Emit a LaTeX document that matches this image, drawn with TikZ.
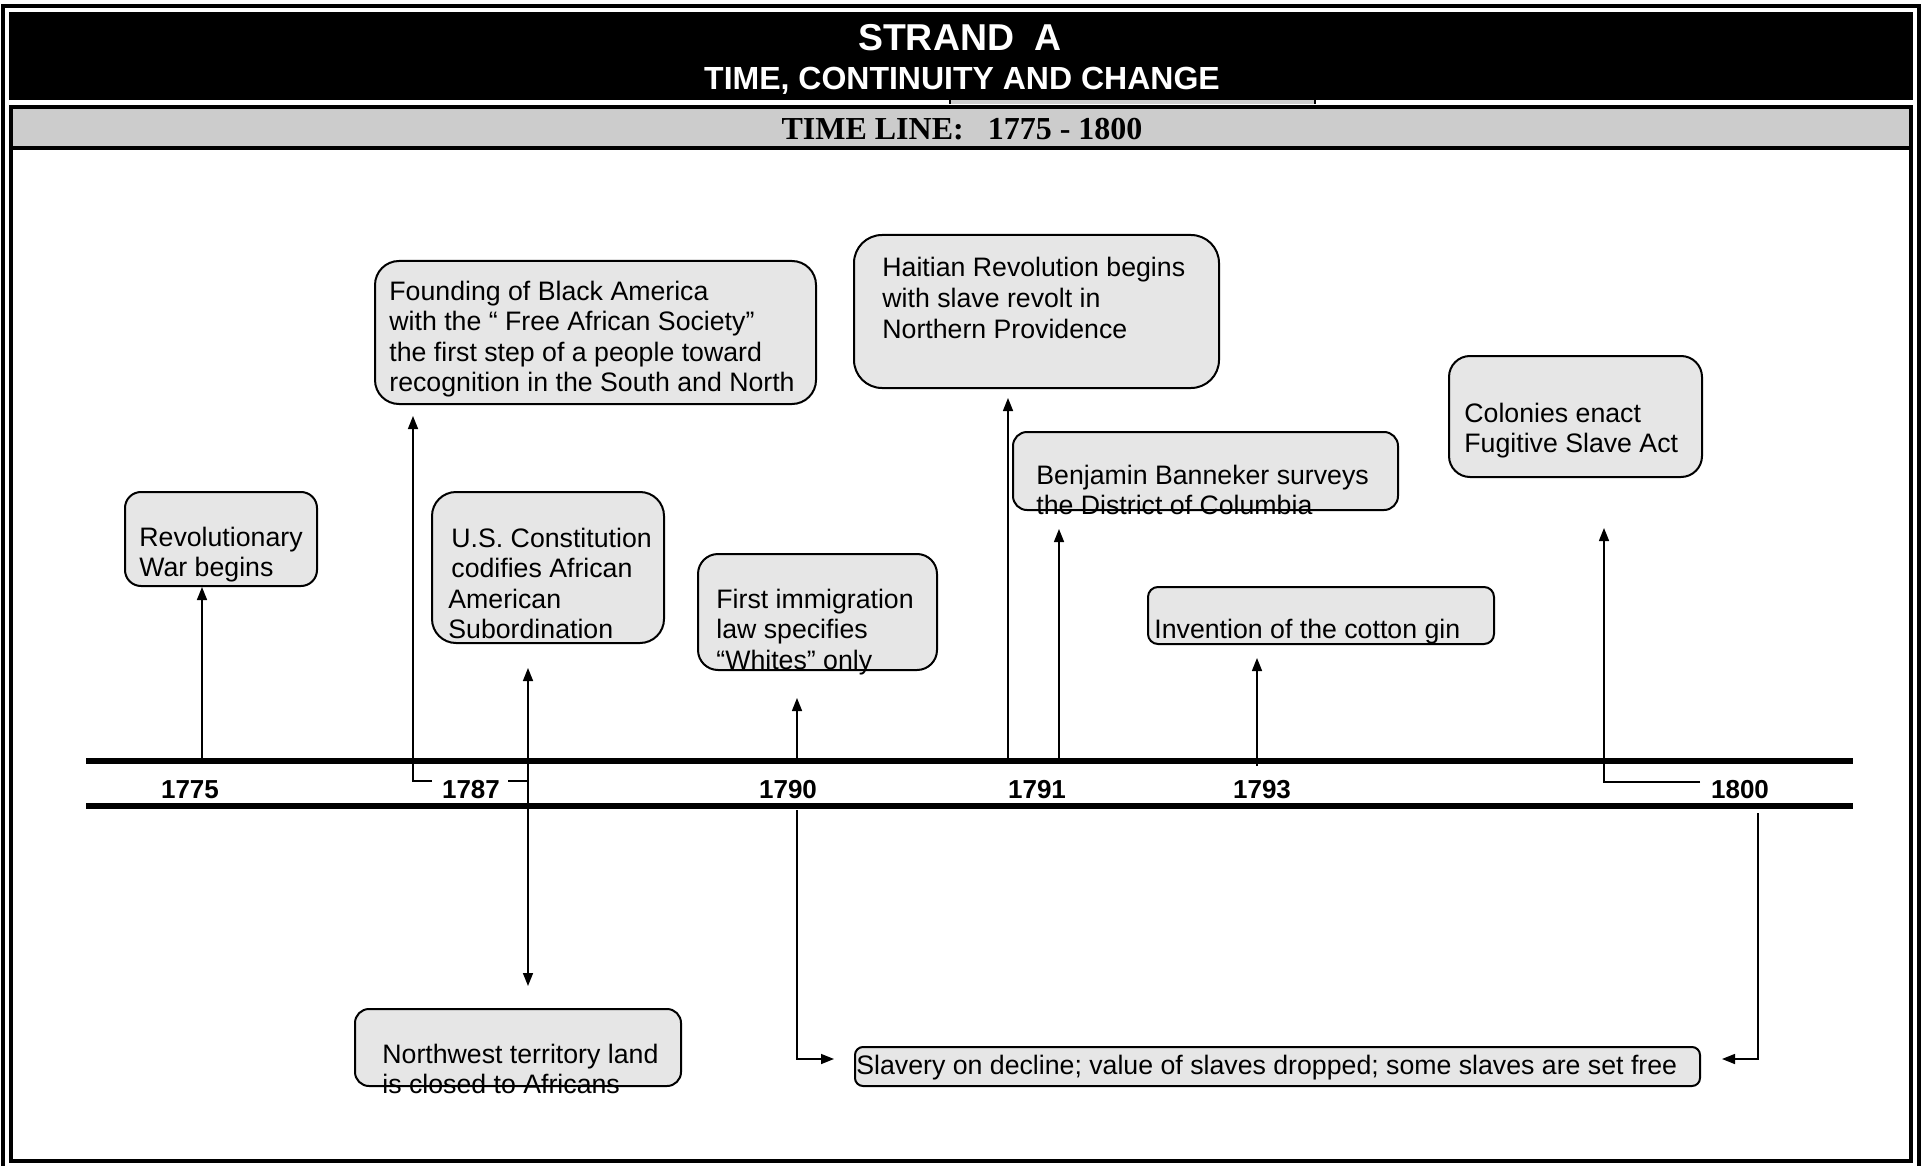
\documentclass[tikz,border=0pt]{standalone}
\usepackage{fontspec}
\setmainfont{Liberation Sans}
\newfontfamily\tnr{Liberation Serif}
\usetikzlibrary{arrows.meta}
\definecolor{boxgray}{HTML}{E6E6E6}
\definecolor{bandgray}{HTML}{CCCCCC}
\begin{document}
\begin{tikzpicture}[x=0.5pt,y=-0.5pt,
  evbox/.style={draw=black, line width=1pt, fill=boxgray, inner sep=0pt, shape=rectangle},
  evtext/.style={anchor=base west, inner sep=0pt, font=\fontsize{13.35}{15.3}\selectfont},
  yr/.style={anchor=base, inner sep=0pt, font=\fontsize{13}{15}\selectfont\bfseries},
  conn/.style={line width=0.75pt},
  tip/.tip={Triangle[length=6.5pt,width=5pt]},
  arr/.style={conn, -tip},
  tline/.style={line width=3pt},
  frame/.style={line width=2pt},
]
\useasboundingbox (0,0) rectangle (1927,1166);
\fill[white] (0,0) rectangle (1927,1166);
% outer frame
\draw[frame] (3,6) rectangle (1918.5,1175);
% title block
\fill[black] (9,12) rectangle (1913,100);
\fill[bandgray] (950,100) rectangle (1315,104);
\draw[line width=0.6pt] (950,100) -- (950,104) (1315,100) -- (1315,104);
% inner frame with gray band
\fill[bandgray] (11,107) rectangle (1911,148);
\draw[frame] (11,107) rectangle (1911,1161);
\draw[frame] (11,148) -- (1911,148);
\node[anchor=base, inner sep=0pt, text=white, font=\fontsize{18.7}{22}\selectfont\bfseries] (title1) at (960,51) {STRAND\ \ A};
\node[anchor=base, inner sep=0pt, text=white, font=\fontsize{16}{19}\selectfont\bfseries] (title2) at (962,90) {TIME, CONTINUITY AND CHANGE};
\node[anchor=base, inner sep=0pt, font=\fontsize{16}{19}\selectfont\tnr\bfseries] (band) at (962,140) {TIME LINE:\ \ \ 1775 - 1800};

% timeline
\coordinate (tlAl) at (86,761);
\coordinate (tlAr) at (1853,761);
\coordinate (tlBl) at (86,805.5);
\coordinate (tlBr) at (1853,805.5);
\draw[tline] (tlAl) -- (tlAr);
\draw[tline] (tlBl) -- (tlBr);

% years
\node[yr] (y1775) at (190,798) {1775};
\node[yr] (y1787) at (471,798) {1787};
\node[yr] (y1790) at (788,798) {1790};
\node[yr] (y1791) at (1037,798) {1791};
\node[yr] (y1793) at (1262,798) {1793};
\node[yr] (y1800) at (1740,798) {1800};

% event boxes
\node[evbox, rounded corners=8pt, minimum width=96pt, minimum height=47pt] (rev) at (221,539) {};
\node[evbox, rounded corners=12pt, minimum width=220.5pt, minimum height=71.5pt] (found) at (595.5,332.5) {};
\node[evbox, rounded corners=12pt, minimum width=116pt, minimum height=75.5pt] (const) at (548,567.5) {};
\node[evbox, rounded corners=10pt, minimum width=119.5pt, minimum height=58pt] (imm) at (817.5,612) {};
\node[evbox, rounded corners=14pt, minimum width=182.5pt, minimum height=76.5pt] (haiti) at (1036.5,311.5) {};
\node[evbox, rounded corners=7pt, minimum width=192.5pt, minimum height=39pt] (bann) at (1205.5,471) {};
\node[evbox, rounded corners=10.5pt, minimum width=126.5pt, minimum height=60.5pt] (colon) at (1575.5,416.5) {};
\node[evbox, rounded corners=5pt, minimum width=173pt, minimum height=28.5pt] (gin) at (1321,615.5) {};
\node[evbox, rounded corners=7pt, minimum width=163pt, minimum height=38.5pt] (nw) at (518,1047.5) {};
\node[evbox, rounded corners=4pt, minimum width=422.5pt, minimum height=19.5pt] (slav) at (1277.5,1066.5) {};

% event texts
\node[evtext] (revT) at (139,546) {\vtop{\hbox{Revolutionary}\hbox{War begins}}};
\node[evtext] (foundT) at (389,300) {\vtop{\hbox{Founding of Black America}\hbox{with the \textquotedblleft\ Free African Society\textquotedblright}\hbox{the first step of a people toward}\hbox{recognition in the South and North}}};
\node[evtext] (constT) at (448,547) {\vtop{\hbox{\kern1.5pt U.S. Constitution}\hbox{\kern1.5pt codifies African}\hbox{American}\hbox{Subordination}}};
\node[evtext] (immT) at (716,608) {\vtop{\hbox{First immigration}\hbox{law specifies}\hbox{\textquotedblleft Whites\textquotedblright\ only}}};
\node[evtext] (haitiT) at (882,277) {\vtop{\hbox{Haitian Revolution begins}\hbox{with slave revolt in}\hbox{Northern Providence}}};
\node[evtext] (bannT) at (1036,484) {\vtop{\hbox{Benjamin Banneker surveys}\hbox{the District of Columbia}}};
\node[evtext] (colonT) at (1464,422) {\vtop{\hbox{Colonies enact}\hbox{Fugitive Slave Act}}};
\node[evtext] (ginT) at (1154,638) {Invention of the cotton gin};
\node[evtext] (nwT) at (382,1063) {\vtop{\hbox{Northwest territory land}\hbox{is closed to Africans}}};
\node[evtext] (slavT) at (856,1074) {Slavery on decline; value of slaves dropped; some slaves are set free};

% connectors
\coordinate (c1775) at (202,761);
\draw[arr] (c1775) -- (rev.south -| c1775);

\coordinate (c1787a) at (432,781);
\coordinate (c1787b) at (413,781);
\draw[arr, shorten >=5.5pt] (c1787a) -- (c1787b) -- (found.south -| c1787b);

\coordinate (c1787c) at (508,781);
\coordinate (c1787d) at (528,781);
\draw[conn] (c1787c) -- (c1787d);
\draw[conn, tip-tip, shorten <=12pt, shorten >=11pt] (const.south -| c1787d) -- (nw.north -| c1787d);

\coordinate (c1790) at (797,761);
\draw[arr, shorten >=13.5pt] (c1790) -- (imm.south -| c1790);
\coordinate (c1790d) at (797,810);
\coordinate (c1790e) at (797,1059);
\draw[arr, shorten >=10pt] (c1790d) -- (c1790e) -- (c1790e -| slav.west);

\coordinate (c1791a) at (1008,761);
\draw[arr, shorten >=4.5pt] (c1791a) -- (haiti.south -| c1791a);
\coordinate (c1791b) at (1059,761);
\draw[arr, shorten >=9pt] (c1791b) -- (bann.south -| c1791b);

\coordinate (c1793) at (1257,766);
\draw[arr, shorten >=6.5pt] (c1793) -- (gin.south -| c1793);

\coordinate (c1800a) at (1700,782);
\coordinate (c1800b) at (1604,782);
\draw[arr, shorten >=25pt] (c1800a) -- (c1800b) -- (colon.south -| c1800b);

\coordinate (c1800c) at (1758,813);
\coordinate (c1800d) at (1758,1059);
\draw[arr, shorten >=10.5pt] (c1800c) -- (c1800d) -- (c1800d -| slav.east);
\end{tikzpicture}
\end{document}
